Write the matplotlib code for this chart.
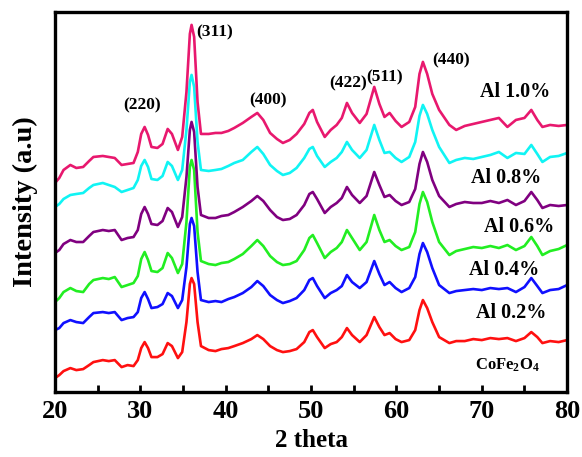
#!/usr/bin/env python3

from matplotlib import pyplot as plt
from matplotlib import ticker

# フォント設定 (Times 風の太字)
plt.rcParams['font.family'] = ['Liberation Serif', 'DejaVu Serif']
plt.rcParams['font.weight'] = 'bold'
plt.rcParams['mathtext.fontset'] = 'custom'
plt.rcParams['mathtext.rm'] = 'Liberation Serif:bold'
plt.rcParams['mathtext.default'] = 'rm'

# 2θ の読み取り点 (全系列共通)
two_theta = [20, 20.5, 21, 21.8, 22.5, 23.3, 24, 24.5, 25.6, 26.3,
             27, 27.8, 28.5, 29.2, 29.7, 30.1, 30.5, 30.9, 31.3, 32,
             32.6, 33.2, 33.7, 34.4, 34.9, 35.4, 35.8, 36.0, 36.3, 36.7,
             37.1, 38, 38.8, 39.5, 40.3, 41, 42, 43, 43.7, 44.4,
             45.2, 46, 46.7, 47.5, 48.3, 49.2, 49.8, 50.2, 50.7, 51.6,
             52.3, 53, 53.6, 54.2, 54.8, 55.7, 56.5, 57.4, 58, 58.6,
             59.2, 59.9, 60.6, 61.5, 62.2, 62.7, 63.1, 63.6, 64.2, 65,
             66.2, 67, 68, 69, 70, 71, 72, 73, 74, 75,
             75.8, 76.5, 77.1, 78, 79, 80]

# 強度 (a.u., 積み上げ後の値を図から読み取り)
cofe2o4 = [14, 17, 21, 24, 22, 23, 27, 30, 32, 31,
           32, 25, 27, 26, 32, 44, 50, 44, 35, 35,
           38, 49, 46, 34, 40, 70, 108, 114, 108, 70,
           46, 42, 41, 43, 44, 46, 49, 53, 57, 53,
           46, 42, 40, 41, 43, 50, 60, 62, 55, 44,
           48, 50, 55, 64, 57, 50, 57, 75, 65, 57,
           59, 53, 50, 52, 62, 82, 92, 84, 70, 55,
           49, 51, 51, 53, 52, 54, 53, 54, 51, 54,
           60, 55, 49, 51, 50, 52]

al_02 = [62, 64, 69, 72, 70, 69, 75, 79, 80, 79,
         80, 72, 74, 75, 80, 94, 100, 93, 84, 85,
         88, 99, 96, 84, 92, 125, 168, 174, 166, 120,
         92, 90, 91, 90, 93, 95, 99, 105, 111, 106,
         97, 92, 89, 91, 94, 102, 112, 114, 106, 94,
         99, 102, 106, 117, 110, 104, 110, 131, 118, 107,
         110, 104, 100, 104, 115, 138, 149, 140, 124, 107,
         99, 101, 102, 103, 102, 104, 103, 104, 100, 105,
         114, 106, 99, 102, 103, 107]

al_04 = [90, 94, 100, 104, 101, 100, 108, 112, 114, 113,
         115, 105, 107, 109, 116, 133, 140, 132, 121, 120,
         124, 139, 134, 119, 128, 170, 225, 232, 222, 160,
         131, 128, 127, 129, 130, 133, 138, 146, 152, 146,
         136, 130, 127, 128, 131, 142, 154, 157, 149, 134,
         140, 144, 150, 162, 154, 142, 150, 177, 162, 150,
         152, 146, 142, 145, 160, 188, 200, 190, 170, 150,
         137, 141, 143, 145, 144, 146, 144, 147, 142, 146,
         155, 146, 137, 141, 143, 147]

al_06 = [139, 142, 148, 152, 150, 150, 156, 160, 162, 161,
         162, 152, 154, 155, 162, 178, 185, 178, 168, 167,
         171, 184, 180, 165, 175, 215, 262, 270, 260, 205,
         177, 174, 174, 176, 177, 180, 185, 191, 196, 191,
         182, 175, 172, 173, 177, 187, 198, 200, 193, 179,
         185, 189, 194, 205, 197, 189, 196, 220, 207, 195,
         197, 191, 187, 190, 203, 228, 240, 230, 212, 196,
         185, 188, 190, 189, 189, 191, 189, 192, 187, 191,
         200, 192, 184, 187, 186, 187]

al_08 = [185, 188, 193, 197, 198, 199, 204, 207, 209, 207,
         205, 200, 202, 204, 212, 226, 232, 225, 213, 212,
         216, 230, 226, 212, 222, 262, 310, 317, 305, 250,
         222, 221, 222, 223, 226, 229, 232, 240, 245, 238,
         227, 221, 217, 219, 224, 234, 243, 245, 236, 225,
         230, 234, 240, 250, 242, 234, 242, 267, 252, 239,
         240, 234, 230, 235, 250, 276, 287, 278, 262, 245,
         229, 232, 234, 233, 235, 237, 240, 234, 239, 238,
         247, 238, 230, 235, 236, 239]

al_10 = [209, 214, 222, 227, 224, 225, 231, 235, 236, 235,
         234, 227, 228, 229, 240, 258, 265, 257, 245, 244,
         248, 263, 258, 242, 255, 300, 358, 367, 355, 290,
         258, 258, 259, 259, 261, 264, 269, 275, 279, 272,
         259, 253, 249, 252, 258, 268, 279, 282, 270, 255,
         262, 267, 274, 289, 279, 269, 278, 305, 288, 275,
         279, 271, 265, 270, 285, 318, 330, 318, 298, 282,
         267, 262, 266, 268, 270, 272, 274, 265, 272, 274,
         282, 272, 265, 267, 266, 267]

series = [
    (cofe2o4, '#ff1010'),
    (al_02, '#1010ff'),
    (al_04, '#22ee22'),
    (al_06, '#800080'),
    (al_08, '#10f4f4'),
    (al_10, '#e8186e'),
]

# 面指数ラベル
hkl_labels = ['(220)', '(311)', '(400)', '(422)', '(511)', '(440)']
hkl_pos = [(30.2, 287), (38.7, 360), (45.0, 292), (54.3, 309), (58.6, 315), (66.4, 332)]

# 試料名ラベル
sample_labels = ['Al 1.0%', 'Al 0.8%', 'Al 0.6%', 'Al 0.4%', 'Al 0.2%', 'CoFe$_2$O$_4$']
sample_pos = [(73.9, 300), (72.9, 214), (74.4, 165), (72.6, 122), (73.4, 79), (73.0, 27)]

fig = plt.figure(figsize=(5.82, 4.57), dpi=100)
ax = fig.add_axes([0.0945, 0.142, 0.880, 0.832])

for y, c in series:
    ax.plot(two_theta, y, c=c, lw=1.9, solid_joinstyle='round')

for t, (px, py) in zip(hkl_labels, hkl_pos):
    ax.text(px, py, t, ha='center', va='center', fontsize=12.5, fontweight='bold')

for i, (t, (px, py)) in enumerate(zip(sample_labels, sample_pos)):
    fs = 12 if i == len(sample_labels) - 1 else 14.5
    ax.text(px, py, t, ha='center', va='center', fontsize=fs, fontweight='bold')

ax.set_xlim(20, 80)
ax.set_ylim(0, 380)
ax.xaxis.set_major_locator(ticker.MultipleLocator(10))
ax.xaxis.set_minor_locator(ticker.MultipleLocator(5))
ax.tick_params(axis='x', which='both', direction='in', length=5, width=2,
               labelsize=19, pad=6)
ax.set_yticks([])
for s in ax.spines.values():
    s.set_linewidth(2.4)

ax.set_xlabel('2 theta', fontsize=18, fontweight='bold', labelpad=4)
ax.set_ylabel('Intensity (a.u)', fontsize=20.5, fontweight='bold', labelpad=12)

plt.savefig('out.png', dpi=100)
